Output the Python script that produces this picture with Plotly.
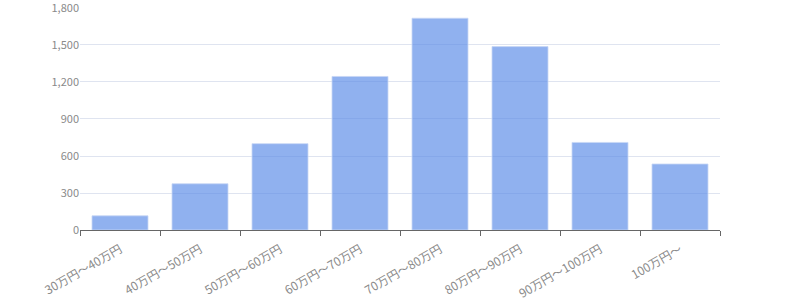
import plotly.graph_objects as go

categories = ["30万円〜40万円", "40万円〜50万円", "50万円〜60万円", "60万円〜70万円",
              "70万円〜80万円", "80万円〜90万円", "90万円〜100万円", "100万円〜"]
values = [115, 375, 700, 1245, 1717, 1487, 710, 535]
y_ticks = [0, 300, 600, 900, 1200, 1500, 1800]

fig = go.Figure(go.Bar(
    x=categories, y=values, width=0.7,
    marker=dict(color="rgba(91,140,232,0.68)",
                line=dict(color="rgba(200,215,245,0.8)", width=1)),
))
font = "Noto Sans CJK JP, Noto Sans, sans-serif"
fig.update_layout(
    width=800, height=300,
    margin=dict(l=80, r=80, t=7, b=70, autoexpand=False),
    plot_bgcolor="white", paper_bgcolor="white",
    showlegend=False, bargap=0.3,
    font=dict(family=font, size=11, color="#888"),
)
fig.update_xaxes(
    type="category", tickangle=-30, ticks="outside", tickson="boundaries",
    ticklen=5, tickcolor="#666", showline=True, linecolor="#666", linewidth=1,
    showgrid=False, automargin=False, ticklabelstandoff=7,
    tickfont=dict(size=12, color="#8a8a8a"),
)
fig.update_yaxes(
    range=[0, 1808], tickvals=y_ticks, tickformat=",", showgrid=True,
    gridcolor="#dfe4f0", gridwidth=1, zeroline=False, showline=False,
    automargin=False, ticks="", ticklabeloverflow="allow",
    tickfont=dict(size=11, color="#8a8a8a"),
)
fig.write_html("out.html")
